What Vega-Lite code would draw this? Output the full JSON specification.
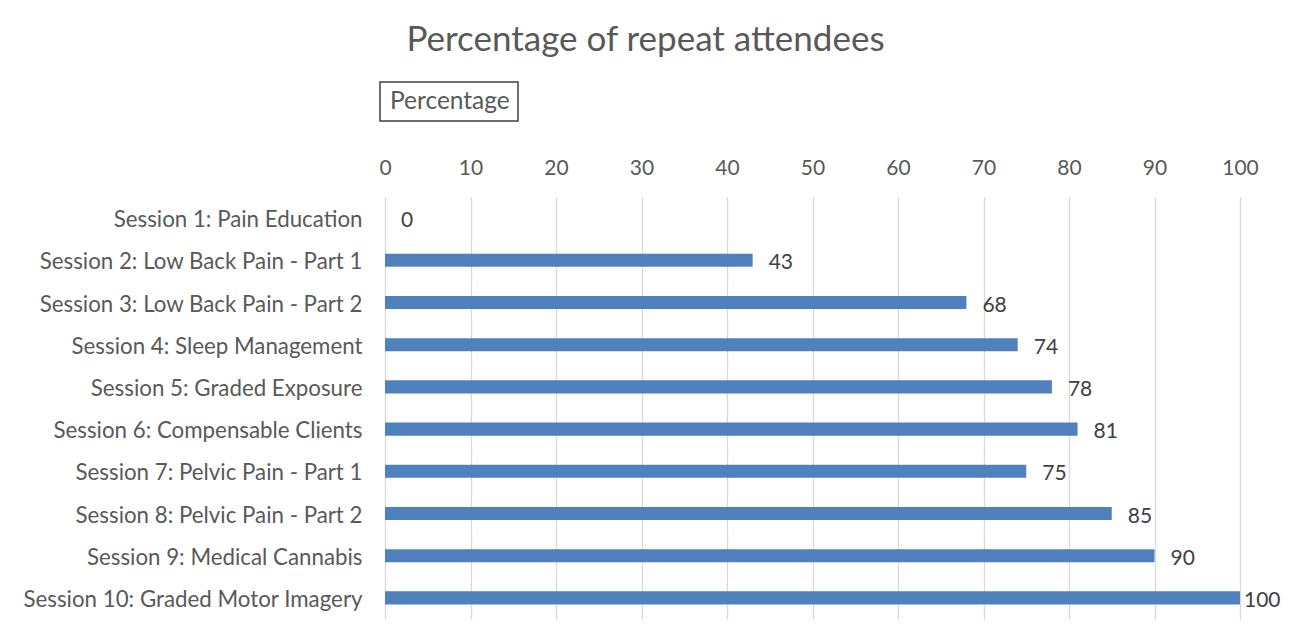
{
  "$schema": "https://vega.github.io/schema/vega-lite/v6.json",
  "width": 855,
  "height": 422,
  "autosize": {"type": "none"},
  "padding": {"left": 385, "top": 197, "right": 56, "bottom": 20},
  "background": "#FFFFFF",
  "title": {
    "text": "Percentage of repeat attendees",
    "anchor": "middle",
    "frame": "group",
    "dx": -167,
    "offset": 23,
    "fontSize": 35,
    "font": "Lato",
    "fontWeight": "normal",
    "color": "#595959"
  },
  "data": {
    "values": [
      {"session": "Session 1: Pain Education", "pct": 0},
      {"session": "Session 2: Low Back Pain - Part 1", "pct": 43},
      {"session": "Session 3: Low Back Pain - Part 2", "pct": 68},
      {"session": "Session 4: Sleep Management", "pct": 74},
      {"session": "Session 5: Graded Exposure", "pct": 78},
      {"session": "Session 6: Compensable Clients", "pct": 81},
      {"session": "Session 7: Pelvic Pain - Part 1", "pct": 75},
      {"session": "Session 8: Pelvic Pain - Part 2", "pct": 85},
      {"session": "Session 9: Medical Cannabis", "pct": 90},
      {"session": "Session 10: Graded Motor Imagery", "pct": 100}
    ]
  },
  "encoding": {
    "y": {
      "field": "session",
      "type": "nominal",
      "sort": null,
      "title": null,
      "scale": {"paddingInner": 0.69, "paddingOuter": 0.345},
      "axis": {
        "domain": false,
        "ticks": false,
        "grid": false,
        "labelPadding": 23,
        "labelOffset": 2,
        "labelFontSize": 22.3,
        "labelFont": "Lato",
        "labelColor": "#595959",
        "labelLimit": 500
      }
    },
    "x": {
      "field": "pct",
      "type": "quantitative",
      "title": null,
      "scale": {"domain": [0, 100], "nice": false},
      "axis": {
        "orient": "top",
        "values": [0, 10, 20, 30, 40, 50, 60, 70, 80, 90, 100],
        "domain": false,
        "ticks": false,
        "grid": true,
        "gridColor": "#D9D9D9",
        "gridWidth": 1.3,
        "labelPadding": 19,
        "labelFontSize": 21,
        "labelFont": "Lato",
        "labelColor": "#595959",
        "labelFlush": false
      }
    }
  },
  "layer": [
    {
      "mark": {"type": "bar"},
      "encoding": {
        "color": {
          "datum": "Percentage",
          "scale": {"range": ["#4F81BD"]},
          "legend": {
            "title": null,
            "orient": "none",
            "legendX": -5,
            "legendY": -115,
            "symbolSize": 0,
            "symbolStrokeWidth": 0,
            "labelOffset": -22,
            "labelFontSize": 24.5,
            "labelFont": "Lato",
            "labelColor": "#595959",
            "strokeColor": "#404040",
            "padding": 7.5
          }
        }
      }
    },
    {
      "transform": [{"filter": "datum.pct < 100"}],
      "mark": {"type": "text", "align": "left", "baseline": "middle", "dx": 16, "dy": 3, "fontSize": 21, "font": "Lato", "color": "#404040"},
      "encoding": {"text": {"field": "pct", "type": "quantitative"}}
    },
    {
      "transform": [{"filter": "datum.pct >= 100"}],
      "mark": {"type": "text", "align": "left", "baseline": "middle", "dx": 4, "dy": 3, "fontSize": 21, "font": "Lato", "color": "#404040"},
      "encoding": {"text": {"field": "pct", "type": "quantitative"}}
    }
  ],
  "config": {
    "view": {"stroke": null},
    "legend": {"strokeWidth": 1.5}
  }
}
